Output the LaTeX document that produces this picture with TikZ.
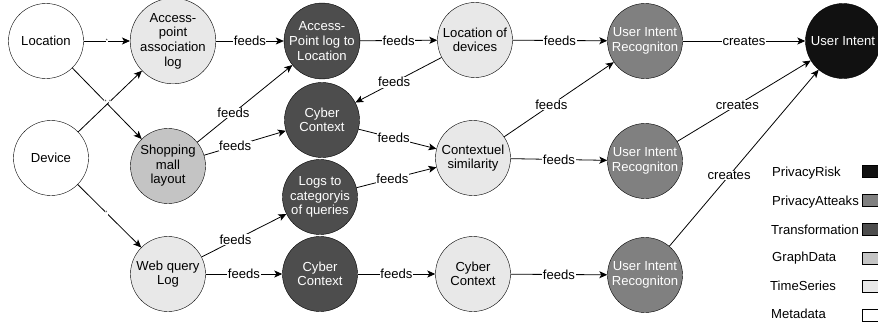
\documentclass[tikz,border=0pt]{standalone}
\usepackage{fontspec}
\setmainfont{Liberation Sans}
\usetikzlibrary{arrows.meta}

\definecolor{riskc}{HTML}{111111}
\definecolor{attackc}{HTML}{808080}
\definecolor{transc}{HTML}{4D4D4D}
\definecolor{graphc}{HTML}{C4C4C4}
\definecolor{seriesc}{HTML}{E8E8E8}
\newcommand{\diagfont}{\fontsize{13.1}{14.6}\selectfont}

\begin{document}
\begin{tikzpicture}[
        x=1pt, y=-1pt,
        meta/.style={
            circle,
            fill=white,
            draw=black,
            minimum size=75pt,
            inner sep=0pt,
            align=center,
            font=\diagfont
        },
        series/.style={
            circle,
            fill=seriesc,
            draw=black,
            minimum size=75pt,
            inner sep=0pt,
            align=center,
            font=\diagfont
        },
        graphdata/.style={
            circle,
            fill=graphc,
            draw=black,
            minimum size=75pt,
            inner sep=0pt,
            align=center,
            font=\diagfont
        },
        transform/.style={
            circle,
            fill=transc,
            draw=black,
            text=white,
            minimum size=75pt,
            inner sep=0pt,
            align=center,
            font=\diagfont
        },
        attack/.style={
            circle,
            fill=attackc,
            draw=black,
            text=white,
            minimum size=75pt,
            inner sep=0pt,
            align=center,
            font=\diagfont
        },
        risk/.style={
            circle,
            fill=riskc,
            draw=black,
            text=white,
            minimum size=75pt,
            inner sep=0pt,
            align=center,
            font=\diagfont
        },
        flow/.style={
            -{Stealth[length=8pt,width=7pt,inset=2pt]},
            line width=0.8pt
        },
        lbl/.style={
            fill=white,
            inner sep=0.5pt,
            font=\diagfont
        },
        star/.style={
            fill=white,
            inner sep=0.3pt,
            font=\tiny
        },
        keybox/.style={
            draw=black,
            line width=0.8pt,
            minimum width=16pt,
            minimum height=12pt,
            inner sep=0pt
        }
    ]
        \useasboundingbox (0,0) rectangle (878,324);

        % Sources
        \node[meta] (loc) at (46,41) {Location};
        \node[meta] (dev) at (51,158) {Device};

        % First layer
        \node[series] (apal) at (173,41) {Access-\\point\\association\\log};
        \node[graphdata] (shop) at (168,166) {Shopping\\mall\\layout};
        \node[series] (web) at (168,274) {Web query\\Log};

        % Transformations
        \node[transform] (aplog) at (322,41) {Access-\\Point log to\\Location};
        \node[transform] (cyb1) at (322,120) {Cyber\\Context};
        \node[transform] (logs) at (320,197) {Logs to\\categoryis\\of queries};
        \node[transform] (cyb2) at (320,274) {Cyber\\Context};

        % Derived data
        \node[series] (locdev) at (475,40) {Location of\\devices};
        \node[series] (ctx) at (473,158) {Contextuel\\similarity};
        \node[series] (cyb3) at (473,274) {Cyber\\Context};

        % Attacks and risk
        \node[attack] (uir1) at (645,41) {User Intent\\Recogniton};
        \node[attack] (uir2) at (645,161) {User Intent\\Recogniton};
        \node[attack] (uir3) at (645,275) {User Intent\\Recogniton};
        \node[risk] (intent) at (843,41) {User Intent};

        % Connectors
        \draw[flow] (loc) -- node[star] {*} (apal);
        \draw[flow] (loc) -- node[star, pos=0.48] {*} (shop);
        \draw[flow] (dev) -- node[star, pos=0.5] {*} (apal);
        \draw[flow] (dev) -- node[star, pos=0.45] {*} (web);

        \draw[flow] (apal) -- node[lbl] {feeds} (aplog);
        \draw[flow] (shop) -- node[lbl, pos=0.38] {feeds} (aplog);
        \draw[flow] (shop) -- node[lbl, pos=0.38] {feeds} (cyb1);
        \draw[flow] (web) -- node[lbl, pos=0.4] {feeds} (logs);
        \draw[flow] (web) -- node[lbl] {feeds} (cyb2);

        \draw[flow] (aplog) -- node[lbl] {feeds} (locdev);
        \draw[flow] (locdev) -- node[lbl, pos=0.55] {feeds} (cyb1);
        \draw[flow] (cyb1) -- node[lbl, pos=0.45] {feeds} (ctx);
        \draw[flow] (logs) -- node[lbl, pos=0.45] {feeds} (ctx);
        \draw[flow] (cyb2) -- node[lbl] {feeds} (cyb3);

        \draw[flow] (locdev) -- node[lbl] {feeds} (uir1);
        \draw[flow] (ctx) -- node[lbl, pos=0.43] {feeds} (uir1);
        \draw[flow] (ctx) -- node[lbl] {feeds} (uir2);
        \draw[flow] (cyb3) -- node[lbl] {feeds} (uir3);

        \draw[flow] (uir1) -- node[lbl] {creates} (intent);
        \draw[flow] (uir2) -- node[lbl, pos=0.45] {creates} (intent);
        \draw[flow] (uir3) -- node[lbl, pos=0.4] {creates} (intent);

        % Legend
        \foreach \name/\col/\y in {risk/riskc/171, attack/attackc/200,
                trans/transc/229, graph/graphc/258,
                series/seriesc/286, meta/white/315} {
            \node[keybox, fill=\col] (key-\name) at (870,\y) {};
        }
        \node[anchor=west, inner sep=0pt, font=\diagfont] (lg-risk) at (772,173) {PrivacyRisk};
        \node[anchor=west, inner sep=0pt, font=\diagfont] (lg-attack) at (772,202) {PrivacyAtteaks};
        \node[anchor=west, inner sep=0pt, font=\diagfont] (lg-trans) at (771,230) {Transformation};
        \node[anchor=west, inner sep=0pt, font=\diagfont] (lg-graph) at (772,258) {GraphData};
        \node[anchor=west, inner sep=0pt, font=\diagfont] (lg-series) at (770,286) {TimeSeries};
        \node[anchor=west, inner sep=0pt, font=\diagfont] (lg-meta) at (771,314) {Metadata};
\end{tikzpicture}
\end{document}
